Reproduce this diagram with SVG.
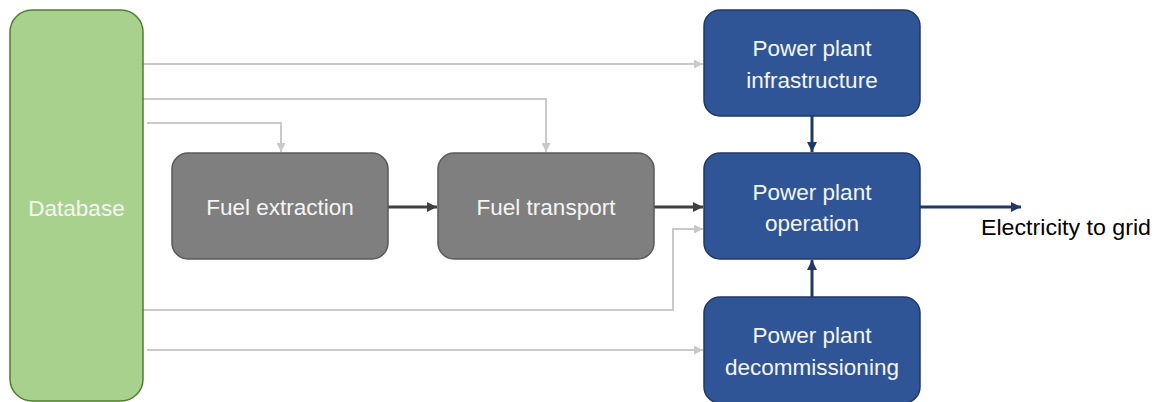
<svg xmlns="http://www.w3.org/2000/svg" width="1155" height="402" viewBox="0 0 1155 402">
<style>
.lbl{font-family:"Liberation Sans",Arial,sans-serif;font-size:22.5px;fill:#f5f5f5;text-anchor:middle}
.ext{font-family:"Liberation Sans",Arial,sans-serif;font-size:22px;fill:#000}
.db{fill:#a9d18e;stroke:#507e32;stroke-width:1.5}
.fuel{fill:#7f7f7f;stroke:#595959;stroke-width:1.5}
.pp{fill:#2f5597;stroke:#203864;stroke-width:1.5}
.g{fill:none;stroke:#c9c9c9;stroke-width:2}
.d{fill:none;stroke:#404040;stroke-width:3}
.n{fill:none;stroke:#203864;stroke-width:3}
</style>
<defs>
<marker id="ag" markerUnits="userSpaceOnUse" markerWidth="9" markerHeight="9" refX="9" refY="4.5" orient="auto"><path d="M0,0 L9,4.5 L0,9 z" fill="#c9c9c9"/></marker>
<marker id="ad" markerUnits="userSpaceOnUse" markerWidth="10" markerHeight="10" refX="10" refY="5" orient="auto"><path d="M0,0 L10,5 L0,10 z" fill="#404040"/></marker>
<marker id="an" markerUnits="userSpaceOnUse" markerWidth="10" markerHeight="10" refX="10" refY="5" orient="auto"><path d="M0,0 L10,5 L0,10 z" fill="#203864"/></marker>
</defs>
<g id="connectors">
<path class="g" d="M143,64 H703" marker-end="url(#ag)"/>
<path class="g" d="M143,99 H546 V152" marker-end="url(#ag)"/>
<path class="g" d="M147,123 H281 V152" marker-end="url(#ag)"/>
<path class="g" d="M143,310 H673 V229 H703" marker-end="url(#ag)"/>
<path class="g" d="M147,350 H703" marker-end="url(#ag)"/>
<path class="d" d="M388,207 H437" marker-end="url(#ad)"/>
<path class="d" d="M654,207 H703" marker-end="url(#ad)"/>
<path class="n" d="M812,116 V152" marker-end="url(#an)"/>
<path class="n" d="M812,297 V260" marker-end="url(#an)"/>
<path class="n" d="M920,207 H1021" marker-end="url(#an)"/>
</g>
<g id="database">
<rect class="db" x="10" y="10" width="133" height="391" rx="22"/>
<text class="lbl" x="76.5" y="216">Database</text>
</g>
<g id="fuel-extraction">
<rect class="fuel" x="172" y="153" width="216" height="106" rx="16"/>
<text class="lbl" x="280" y="215">Fuel extraction</text>
</g>
<g id="fuel-transport">
<rect class="fuel" x="438" y="153" width="216" height="106" rx="16"/>
<text class="lbl" x="546" y="215">Fuel transport</text>
</g>
<g id="pp-infrastructure">
<rect class="pp" x="704" y="10" width="216" height="106" rx="16"/>
<text class="lbl" x="812" y="56">Power plant</text>
<text class="lbl" x="812" y="88">infrastructure</text>
</g>
<g id="pp-operation">
<rect class="pp" x="704" y="153" width="216" height="106" rx="16"/>
<text class="lbl" x="812" y="200">Power plant</text>
<text class="lbl" x="812" y="231">operation</text>
</g>
<g id="pp-decommissioning">
<rect class="pp" x="704" y="297" width="216" height="106" rx="16"/>
<text class="lbl" x="812" y="343">Power plant</text>
<text class="lbl" x="812" y="375">decommissioning</text>
</g>
<g id="electricity-label">
<text class="ext" x="981" y="235" textLength="170" lengthAdjust="spacingAndGlyphs">Electricity to grid</text>
</g>
</svg>
